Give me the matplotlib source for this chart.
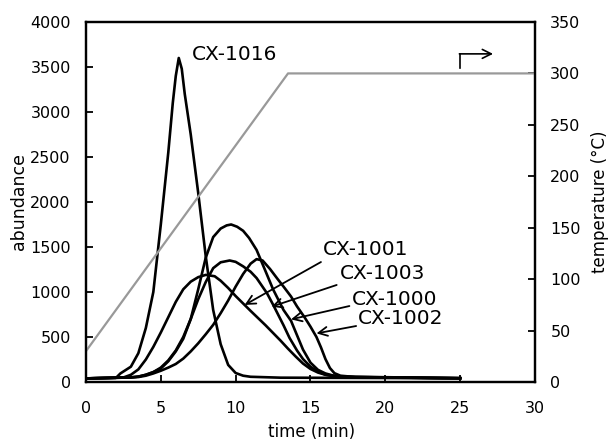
import matplotlib
matplotlib.use("Agg")
import matplotlib.pyplot as plt

# chromatograms (time in min, abundance)
t_1016 = [0, 2.0, 2.3, 3.0, 3.5, 4.0, 4.5, 5.0, 5.5, 5.8, 6.0, 6.2, 6.4, 6.6, 7.0, 7.5, 8.0, 8.5, 9.0, 9.5, 10.0,
          10.5, 11.0, 13.0, 25.0]
a_1016 = [40, 45, 95, 170, 320, 600, 1000, 1750, 2550, 3100, 3400, 3600, 3480, 3200, 2750, 2100, 1400, 800, 420, 190, 100,
          70, 58, 48, 42]

t_1001 = [0, 2.5, 3.0, 3.5, 4.0, 4.5, 5.0, 5.5, 6.0, 6.5, 7.0, 7.5, 8.0, 8.6, 9.0, 9.5, 10.0, 10.6, 11.0, 11.5, 12.0,
          12.5, 13.0, 13.5, 14.0, 14.5, 15.0, 15.5, 16.0, 16.5, 17.0, 25.0]
a_1001 = [40, 50, 80, 140, 250, 390, 550, 720, 890, 1030, 1115, 1165, 1190, 1175, 1125, 1045, 955, 856, 790, 710, 630,
          545, 460, 370, 285, 205, 145, 105, 80, 65, 56, 42]

t_1003 = [0, 3.0, 3.5, 4.0, 4.5, 5.0, 5.5, 6.0, 6.5, 7.0, 7.5, 8.0, 8.5, 9.0, 9.6, 10.0, 10.5, 11.0, 11.4, 12.1, 12.5,
          13.2, 13.6, 14.1, 14.5, 15.0, 15.5, 16.0, 17.0, 25.0]
a_1003 = [40, 50, 60, 80, 110, 160, 240, 350, 500, 700, 920, 1110, 1265, 1330, 1350, 1335, 1285, 1225, 1155, 985, 860,
          630, 490, 350, 255, 170, 115, 82, 60, 42]

t_1000 = [0, 3.0, 3.5, 4.0, 4.5, 5.0, 5.5, 6.0, 6.5, 7.0, 7.5, 8.0, 8.5, 9.0, 9.4, 9.7, 10.1, 10.5, 10.9, 11.4, 12.0,
          12.5, 13.2, 13.7, 14.0, 14.5, 15.0, 15.5, 16.0, 16.5, 17.0, 18.0, 25.0]
a_1000 = [40, 50, 60, 80, 110, 150, 230, 340, 480, 700, 1030, 1380, 1610, 1705, 1740, 1750, 1725, 1680, 1600, 1467, 1230,
          1030, 800, 680, 560, 360, 215, 135, 95, 72, 60, 52, 42]

t_1002 = [0, 3.5, 4.0, 4.5, 5.0, 5.5, 6.0, 6.5, 7.0, 7.5, 8.0, 8.5, 9.0, 9.5, 10.0, 10.5, 11.0, 11.4, 11.8, 12.3, 12.8,
          13.2, 13.7, 14.1, 14.6, 15.0, 15.4, 15.7, 16.0, 16.3, 16.6, 17.0, 18.0, 25.0]
a_1002 = [40, 55, 70, 95, 125, 160, 200, 260, 340, 430, 530, 635, 765, 905, 1060, 1200, 1315, 1365, 1350, 1255, 1145,
          1060, 950, 840, 720, 615, 500, 385, 255, 155, 98, 70, 55, 42]

# oven program (right axis)
t_oven = [0, 13.5, 30]
temp_oven = [30, 300, 300]

curves = [(t_1016, a_1016), (t_1001, a_1001), (t_1003, a_1003), (t_1000, a_1000), (t_1002, a_1002)]

# label text position, arrow tail, arrow tip (abundance axis)
labels = ["CX-1001", "CX-1003", "CX-1000", "CX-1002"]
label_xy = [(15.8, 1467), (16.95, 1200), (17.75, 922), (18.15, 711)]
tails = [(15.7, 1333), (16.75, 1078), (17.6, 844), (18.05, 622)]
tips = [(10.6, 856), (12.4, 837), (13.7, 696), (15.4, 540)]

fig = plt.figure(figsize=(6.08, 4.46), dpi=100)
ax = fig.add_axes([0.1414, 0.1435, 0.7385, 0.8072])
ax2 = ax.twinx()

for t, a in curves:
    ax.plot(t, a, color="black", lw=1.9, solid_joinstyle="round")

ax2.plot(t_oven, temp_oven, color="0.6", lw=1.6)

ax.text(7.1, 3644, "CX-1016", fontsize=14.5, ha="left", va="center")
for name, pos, tail, tip in zip(labels, label_xy, tails, tips):
    ax.text(pos[0], pos[1], name, fontsize=14.5, ha="left", va="center")
    ax.annotate("", xy=tip, xytext=tail,
                arrowprops=dict(arrowstyle="->", lw=1.3, color="black",
                                shrinkA=0, shrinkB=0, mutation_scale=16))

# bent arrow pointing to the temperature axis
ax2.plot([25.0, 25.0], [305, 319], color="black", lw=1.2)
ax2.annotate("", xy=(27.2, 319), xytext=(24.95, 319),
             arrowprops=dict(arrowstyle="->", lw=1.2, color="black",
                             shrinkA=0, shrinkB=0, mutation_scale=16))

ax.set_xlim(0, 30)
ax.set_ylim(0, 4000)
ax2.set_ylim(0, 350)
ax.set_xticks(range(0, 31, 5))
ax.set_yticks(range(0, 4001, 500))
ax2.set_yticks(range(0, 351, 50))

ax.tick_params(axis="x", direction="in", length=5, width=1.3, labelsize=11.5, pad=14)
ax.tick_params(axis="y", direction="in", length=5, width=1.3, labelsize=11.5, pad=11)
ax2.tick_params(axis="y", direction="in", length=5, width=1.3, labelsize=11.5, pad=11)

for sp in ax.spines.values():
    sp.set_linewidth(1.6)
for sp in ax2.spines.values():
    sp.set_linewidth(1.6)

ax.set_xlabel("time (min)", fontsize=12, va="top")
ax.xaxis.set_label_coords(0.502, -0.114)
ax.set_ylabel("abundance", fontsize=12.5)
ax.yaxis.set_label_coords(-0.13, 0.5)
ax2.set_ylabel("temperature (°C)", fontsize=12)
ax2.yaxis.set_label_coords(1.125, 0.5)

fig.savefig("out.png", dpi=100)
